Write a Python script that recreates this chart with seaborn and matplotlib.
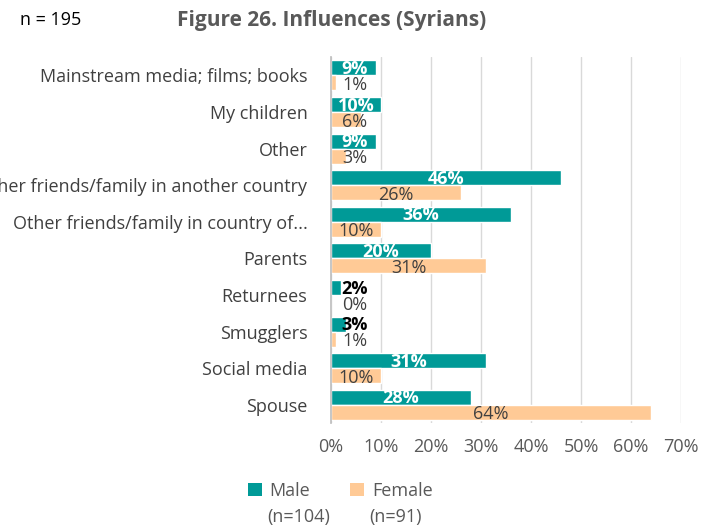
import matplotlib
matplotlib.use("Agg")
import matplotlib.pyplot as plt
import seaborn as sns
import pandas as pd
from matplotlib.patches import Patch
from matplotlib.ticker import FuncFormatter

categories = ["Mainstream media; films; books", "My children", "Other",
              "Other friends/family in another country", "Other friends/family in country of...",
              "Parents", "Returnees", "Smugglers", "Social media", "Spouse"]
male = [9, 10, 9, 46, 36, 20, 2, 3, 31, 28]
female = [1, 6, 3, 26, 10, 31, 0, 1, 10, 64]
groups = ["Male", "Female"]
group_n = ["(n=104)", "(n=91)"]
colors = ["#009A97", "#FFCA96"]

df = pd.DataFrame({
    "category": categories * 2,
    "value": male + female,
    "group": ["Male"] * len(categories) + ["Female"] * len(categories),
})

sns.set_theme(style="white")
plt.rcParams['font.family'] = ['Open Sans', 'DejaVu Sans']

fig = plt.figure(figsize=(7.12, 5.27), dpi=100)
ax = fig.add_axes([0.4649, 0.1973, 0.4916, 0.6945])

sns.barplot(data=df, y="category", x="value", hue="group", order=categories,
            hue_order=groups, palette=colors, orient="h", width=0.82,
            saturation=1, ax=ax, legend=False)

ax.set_xlim(0, 70)
ax.set_xticks(range(0, 71, 10))
ax.xaxis.set_major_formatter(FuncFormatter(lambda v, p: f"{int(v)}%"))
ax.grid(axis="x", color="#D9D9D9", linewidth=1)
ax.set_axisbelow(True)
for s in ["top", "right", "bottom"]:
    ax.spines[s].set_visible(False)
ax.spines["left"].set_color("#BFBFBF")
ax.set_xlabel("")
ax.set_ylabel("")
ax.tick_params(axis="x", labelsize=13, colors="#595959", length=0, pad=11)
ax.tick_params(axis="y", labelsize=13, colors="#404040", length=0, pad=17)

for ci, cont in enumerate(ax.containers):
    for bar in cont:
        w = bar.get_width()
        yc = bar.get_y() + bar.get_height() / 2
        xpos = max(w / 2, 4.8)
        if ci == 0:
            col = "white" if w >= 5 else "black"
            ax.text(xpos, yc + 0.03, f"{w:.0f}%", ha="center", va="center",
                    fontsize=13, fontweight="bold", color=col)
        else:
            ax.text(xpos, yc + 0.06, f"{w:.0f}%", ha="center", va="center",
                    fontsize=13, color="#404040")

fig.text(0.028, 0.962, "n = 195", fontsize=13, color="black", va="center")
fig.text(0.466, 0.962, "Figure 26. Influences (Syrians)", fontsize=15,
         fontweight="bold", color="#595959", ha="center", va="center")

handles = [Patch(facecolor=c, edgecolor="none") for c in colors]
leg = fig.legend(handles, groups, loc="center", bbox_to_anchor=(0.478, 0.068),
                 ncol=2, frameon=False, fontsize=13, labelcolor="#595959",
                 handlelength=0.75, handleheight=0.75, handletextpad=0.45, columnspacing=2.2)

fig.canvas.draw()
inv = fig.transFigure.inverted()
for t, n in zip(leg.get_texts(), group_n):
    bb = t.get_window_extent()
    x0, y0 = inv.transform((bb.x0, bb.y0))
    fig.text(x0 - 0.004, y0 - 0.032, n, fontsize=13, color="#595959", va="center")

fig.savefig("out.png", dpi=100)
